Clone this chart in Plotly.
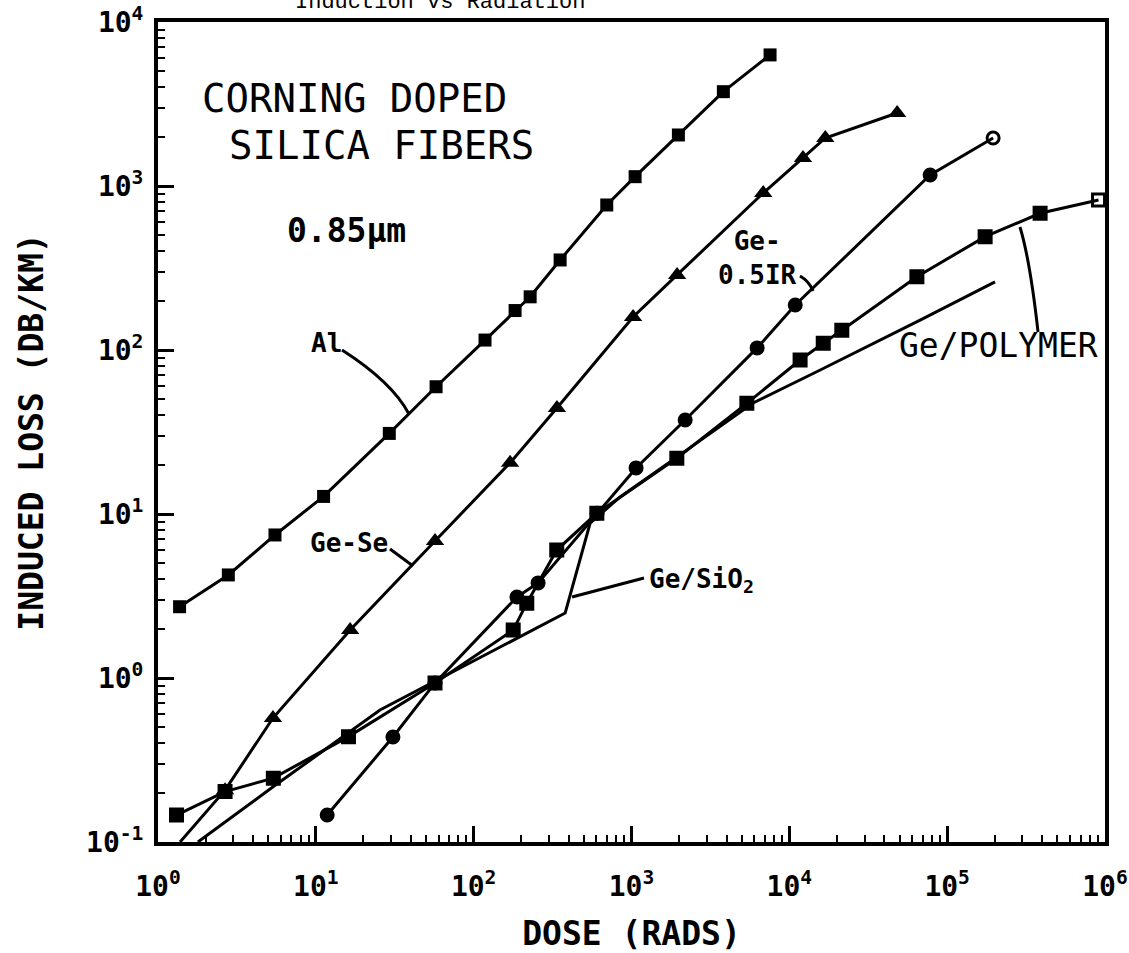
import plotly.graph_objects as go

# ---------------- data ----------------
al_dose = [1.37, 2.79, 5.51, 11.2, 29.2, 57.8, 118, 183, 228, 353, 697, 1054, 1982, 3820, 7550]
al_loss = [2.72, 4.25, 7.45, 12.8, 31.0, 59.7, 115, 174, 211, 354, 766, 1140, 2047, 3760, 6300]

gese_dose = [1.38, 2.66, 5.35, 16.5, 56.9, 170, 337, 1023, 1945, 6830, 12200, 16900, 48200]
gese_loss = [0.10, 0.207, 0.57, 1.96, 6.85, 20.5, 44.3, 159, 287, 906, 1482, 1963, 2787]

geir_dose = [11.8, 30.8, 56.9, 188, 256, 605, 1069, 2188, 6250, 10900, 78000, 195500]
geir_loss = [0.146, 0.437, 0.933, 3.12, 3.80, 10.1, 19.1, 37.4, 103, 188, 1167, 1963]

gepoly_dose = [1.31, 2.66, 5.38, 16.1, 56.9, 178, 217, 336, 603, 1937, 5380, 11700,
               16400, 21500, 64300, 174000, 388000, 910000]
gepoly_loss = [0.146, 0.203, 0.245, 0.439, 0.933, 1.96, 2.86, 6.03, 10.1, 21.9, 47.3, 86.9,
               110, 132, 280, 491, 682, 822]

gesio2_dose = [1.79, 5.36, 25.5, 380, 547, 847, 1945, 5890, 15700, 67400, 201000]
gesio2_loss = [0.10, 0.217, 0.638, 2.49, 8.81, 12.7, 22.3, 47.5, 75.5, 152, 260]

x_decades = [0, 1, 2, 3, 4, 5, 6]
y_decades = [-1, 0, 1, 2, 3, 4]
x_ticktext = ["10<sup>%d</sup>" % d for d in x_decades]
y_ticktext = ["10<sup>%d</sup>" % d for d in y_decades]

# ---------------- styling helpers ----------------
W, H = 1129, 953
L, R, T, B = 158, 1105, 22, 842
FONT = "DejaVu Sans Mono"


def fx(p):
    return (p - L) / (R - L)


def fy(p):
    return (B - p) / (B - T)


fig = go.Figure()

line_style = dict(color="black", width=3)

fig.add_trace(go.Scatter(x=al_dose, y=al_loss, mode="lines+markers", name="Al",
                         line=line_style,
                         marker=dict(symbol="square", size=13, color="black")))

fig.add_trace(go.Scatter(x=gese_dose, y=gese_loss, mode="lines+markers", name="Ge-Se",
                         line=line_style,
                         marker=dict(symbol="triangle-up",
                                     size=[0] + [16] * (len(gese_dose) - 1),
                                     color="black", opacity=1, line=dict(width=0))))

fig.add_trace(go.Scatter(x=gesio2_dose, y=gesio2_loss, mode="lines", name="Ge/SiO2",
                         line=line_style))

fig.add_trace(go.Scatter(x=gepoly_dose, y=gepoly_loss, mode="lines+markers", name="Ge/Polymer",
                         line=line_style,
                         marker=dict(symbol=["square"] * (len(gepoly_dose) - 1) + ["square-open"],
                                     size=12, color="black",
                                     line=dict(color="black", width=3))))

fig.add_trace(go.Scatter(x=geir_dose, y=geir_loss, mode="lines+markers", name="Ge-0.5IR",
                         line=line_style,
                         marker=dict(symbol=["circle"] * (len(geir_dose) - 1) + ["circle-open"],
                                     size=12, color="black",
                                     line=dict(color="black", width=3))))

x_minor = [k * 10 ** d for d in range(0, 6) for k in range(2, 10)]
y_minor = [k * 10.0 ** d for d in range(-1, 4) for k in range(2, 10)]

axis_common = dict(type="log", showline=True, linewidth=4, linecolor="black", mirror=True,
                   ticks="inside", ticklen=16, tickwidth=3, tickcolor="black",
                   showgrid=False, zeroline=False, automargin=False,
                   tickfont=dict(family=FONT, size=28, color="black", weight="bold"))

fig.update_xaxes(**axis_common, range=[0, 6],
                 tickmode="array", tickvals=[10 ** d for d in x_decades], ticktext=x_ticktext,
                 ticklabelstandoff=16,
                 minor=dict(tickmode="array", tickvals=x_minor, ticks="inside", ticklen=7,
                            tickwidth=2, tickcolor="black", showgrid=False),
                 title=dict(text="DOSE (RADS)", standoff=22,
                            font=dict(family=FONT, size=33, color="black", weight="bold")))

fig.update_yaxes(**axis_common, range=[-1, 4],
                 tickmode="array", tickvals=[10.0 ** d for d in y_decades], ticktext=y_ticktext,
                 ticklabelstandoff=5,
                 minor=dict(tickmode="array", tickvals=y_minor, ticks="inside", ticklen=7,
                            tickwidth=2, tickcolor="black", showgrid=False),
                 title=dict(text="INDUCED LOSS (DB/KM)", standoff=34,
                            font=dict(family=FONT, size=33, color="black", weight="bold")))

annotations = [
    dict(text="CORNING DOPED", x=fx(200), y=fy(99), xanchor="left",
         font=dict(family=FONT, size=39, color="black")),
    dict(text="SILICA FIBERS", x=fx(227), y=fy(145), xanchor="left",
         font=dict(family=FONT, size=39, color="black")),
    dict(text="0.85µm", x=fx(346), y=fy(230),
         font=dict(family=FONT, size=33, color="black", weight="bold")),
    dict(text="Al", x=fx(326), y=fy(343),
         font=dict(family=FONT, size=26, color="black", weight="bold")),
    dict(text="Ge-Se", x=fx(349), y=fy(543),
         font=dict(family=FONT, size=26, color="black", weight="bold")),
    dict(text="Ge-<br>0.5IR", x=fx(757), y=fy(258), align="center",
         font=dict(family=FONT, size=26, color="black", weight="bold")),
    dict(text="Ge/SiO<sub>2</sub>", x=fx(647), y=fy(580), xanchor="left",
         font=dict(family=FONT, size=26, color="black", weight="bold")),
    dict(text="Ge/POLYMER", x=fx(998), y=fy(345),
         font=dict(family=FONT, size=33, color="black")),
    dict(text="Induction vs Radiation", x=fx(440), y=fy(3),
         font=dict(family="Liberation Mono", size=22, color="black")),
]
for a in annotations:
    a.update(xref="paper", yref="paper", showarrow=False)
    a.setdefault("xanchor", "center")
    a.setdefault("yanchor", "middle")


def leader(points):
    path = "M %.4f %.4f" % (fx(points[0][0]), fy(points[0][1]))
    if len(points) == 3:
        path += " Q %.4f %.4f %.4f %.4f" % (fx(points[1][0]), fy(points[1][1]),
                                            fx(points[2][0]), fy(points[2][1]))
    else:
        for p in points[1:]:
            path += " L %.4f %.4f" % (fx(p[0]), fy(p[1]))
    return dict(type="path", xref="paper", yref="paper", path=path,
                line=dict(color="black", width=3))


shapes = [
    leader([(342, 350), (392, 382), (409, 414)]),
    leader([(390, 549), (413, 566)]),
    leader([(800, 276), (809, 281), (813, 291)]),
    leader([(644, 578), (572, 597)]),
    leader([(1038, 332), (1030, 260), (1020, 227)]),
]

fig.update_layout(width=W, height=H, margin=dict(l=L, r=W - R, t=T, b=H - B),
                  paper_bgcolor="white", plot_bgcolor="white", showlegend=False,
                  annotations=annotations, shapes=shapes)

fig.write_html("out.html", config={"displayModeBar": False},
               post_script="document.body.style.margin='0';document.body.style.overflow='hidden';")
